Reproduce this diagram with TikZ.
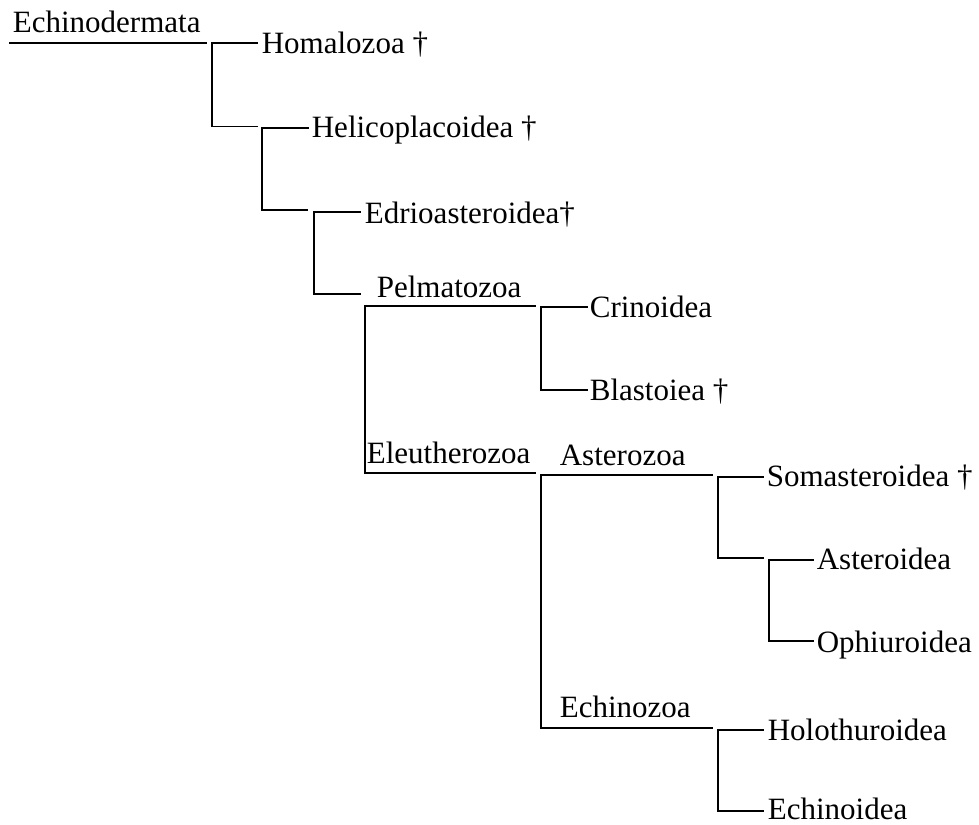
\documentclass[tikz,border=0pt]{standalone}
\usepackage{fontspec}
\setmainfont{Liberation Serif}
\begin{document}
\begin{tikzpicture}[x=1pt,y=-1pt,line width=1.7pt,
  lbl/.style={anchor=base west,inner sep=0pt,font=\fontsize{31}{36}\selectfont},
  link/.style={line cap=rect,line join=miter}]
\useasboundingbox (0,0) rectangle (979,824);
% labels
\node[lbl] (echi) at (12,33) {Echinodermata};
\node[lbl] (homa) at (261,54) {Homalozoa †};
\node[lbl] (heli) at (311,137) {Helicoplacoidea †};
\node[lbl] (edri) at (364,223) {Edrioasteroidea†};
\node[lbl] (pelm) at (376,297) {Pelmatozoa};
\node[lbl] (eleu) at (366,463) {Eleutherozoa};
\node[lbl] (crin) at (589,317) {Crinoidea};
\node[lbl] (blas) at (589,400) {Blastoiea †};
\node[lbl] (aste) at (559,465) {Asterozoa};
\node[lbl] (echz) at (559,717) {Echinozoa};
\node[lbl] (soma) at (766,486) {Somasteroidea †};
\node[lbl] (astd) at (816,569) {Asteroidea};
\node[lbl] (ophi) at (816,652) {Ophiuroidea};
\node[lbl] (holo) at (767,740) {Holothuroidea};
\node[lbl] (echd) at (767,819) {Echinoidea};
% coordinates
\coordinate (u0) at (10,43);   \coordinate (u1) at (206,43);
\coordinate (b1a) at (257,43); \coordinate (b1t) at (212,43);
\coordinate (b1b) at (212,126.5); \coordinate (b1c) at (257,126.5);
\coordinate (b2a) at (308,128); \coordinate (b2t) at (262,128);
\coordinate (b2b) at (262,210); \coordinate (b2c) at (307,210);
\coordinate (b3a) at (360,212); \coordinate (b3t) at (314,212);
\coordinate (b3b) at (314,294); \coordinate (b3c) at (360,294);
\coordinate (b4a) at (535,306); \coordinate (b4t) at (365,306);
\coordinate (b4b) at (365,473); \coordinate (b4c) at (535,473);
\coordinate (b5a) at (587,307); \coordinate (b5t) at (541,307);
\coordinate (b5b) at (541,390); \coordinate (b5c) at (587,390);
\coordinate (b6a) at (712,475); \coordinate (b6t) at (541,475);
\coordinate (b6b) at (541,728); \coordinate (b6c) at (712,728);
\coordinate (b7a) at (763,477); \coordinate (b7t) at (718,477);
\coordinate (b7b) at (718,558); \coordinate (b7c) at (763,558);
\coordinate (b8a) at (813,560); \coordinate (b8t) at (769,560);
\coordinate (b8b) at (769,641); \coordinate (b8c) at (813,641);
\coordinate (b9a) at (763,730); \coordinate (b9t) at (718,730);
\coordinate (b9b) at (718,811); \coordinate (b9c) at (763,811);
% connectors
\draw[link] (u0) -- (u1);
\draw[link] (b1a) -- (b1t) -- (b1b) -- (b1c);
\draw[link] (b2a) -- (b2t) -- (b2b) -- (b2c);
\draw[link] (b3a) -- (b3t) -- (b3b) -- (b3c);
\draw[link] (b4a) -- (b4t) -- (b4b) -- (b4c);
\draw[link] (b5a) -- (b5t) -- (b5b) -- (b5c);
\draw[link] (b6a) -- (b6t) -- (b6b) -- (b6c);
\draw[link] (b7a) -- (b7t) -- (b7b) -- (b7c);
\draw[link] (b8a) -- (b8t) -- (b8b) -- (b8c);
\draw[link] (b9a) -- (b9t) -- (b9b) -- (b9c);
\end{tikzpicture}
\end{document}
